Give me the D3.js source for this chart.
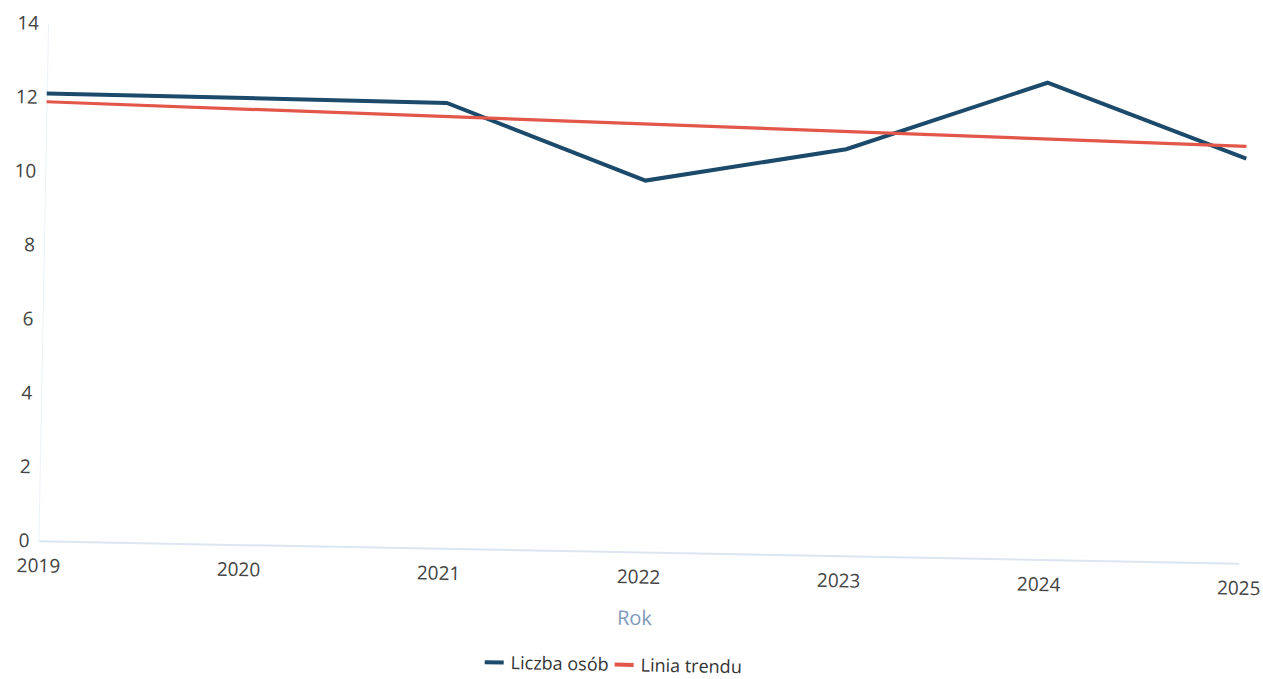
<!DOCTYPE html>
<html>
<head>
<meta charset="utf-8">
<script src="https://cdn.jsdelivr.net/npm/d3@7"></script>
<style>
  html, body { margin: 0; padding: 0; background: #ffffff; }
  svg { display: block; }
  text { font-family: "Open Sans", "Noto Sans", sans-serif; }
</style>
</head>
<body>
<svg id="chart" width="1263" height="679"></svg>
<script>
// ---- data ----
const years = [2019, 2020, 2021, 2022, 2023, 2024, 2025];
const people = [12.1, 12.08, 12.05, 10.05, 11.0, 12.9, 10.95];
const trendYears = [2019, 2025];
const trendValues = [11.88, 11.28];
const yTicks = [0, 2, 4, 6, 8, 10, 12, 14];
const seriesNames = ["Liczba osób", "Linia trendu"];
const xTitle = "Rok";

// ---- layout ----
const W = 1263, H = 679;
const plotLeft = 48.5, plotRight = 1249;
const svg = d3.select("#chart");
// slight tilt of the photographed original
const root = svg.append("g").attr("transform", "rotate(1.07)");

const x = d3.scaleLinear().domain([2019, 2025]).range([plotLeft, plotRight]);
const y = d3.scaleLinear().domain([0, 14]).range([540, 22.5]);

// y axis
const yAxis = d3.axisLeft(y).tickValues(yTicks).tickSize(0).tickPadding(9);
const gy = root.append("g").attr("transform", `translate(${plotLeft},0)`).call(yAxis);
gy.select(".domain").attr("stroke", "#eef3fa").attr("stroke-width", 1.2);
gy.selectAll("text").attr("fill", "#444").style("font-size", "19px").attr("x", -9);

// x axis (zero line)
const xAxis = d3.axisBottom(x).tickValues(years).tickFormat(d3.format("d")).tickSize(0).tickPadding(18);
const gx = root.append("g").attr("transform", `translate(0,${y(0)})`).call(xAxis);
gx.select(".domain").attr("stroke", "#dce6f2").attr("stroke-width", 2);
gx.selectAll("text").attr("fill", "#444").style("font-size", "19px");

// axis title
root.append("text")
  .attr("x", 646).attr("y", 606).attr("dy", "0.35em")
  .attr("text-anchor", "middle")
  .attr("fill", "#8199bb").style("font-size", "20px")
  .text(xTitle);

// lines
const line = d3.line().x(d => x(d[0])).y(d => y(d[1]));
root.append("path")
  .datum(years.map((yr, i) => [yr, people[i]]))
  .attr("fill", "none").attr("stroke", "#1b4a6b").attr("stroke-width", 4)
  .attr("stroke-linejoin", "miter")
  .attr("d", line);
root.append("path")
  .datum(trendYears.map((yr, i) => [yr, trendValues[i]]))
  .attr("fill", "none").attr("stroke", "#e2574a").attr("stroke-width", 3.2)
  .attr("d", line);

// legend
const legend = root.append("g").attr("transform", "translate(497,653)");
const colors = ["#1b4a6b", "#e2574a"];
let offset = 0;
seriesNames.forEach((name, i) => {
  const g = legend.append("g").attr("transform", `translate(${offset},0)`);
  g.append("line").attr("x1", 0).attr("x2", 19).attr("y1", 0).attr("y2", 0)
    .attr("stroke", colors[i]).attr("stroke-width", 4);
  const t = g.append("text").attr("x", 26).attr("y", 0).attr("dy", "0.35em")
    .attr("fill", "#333").style("font-size", "18px").text(name);
  offset += 26 + t.node().getComputedTextLength() + 6;
});
</script>
</body>
</html>
